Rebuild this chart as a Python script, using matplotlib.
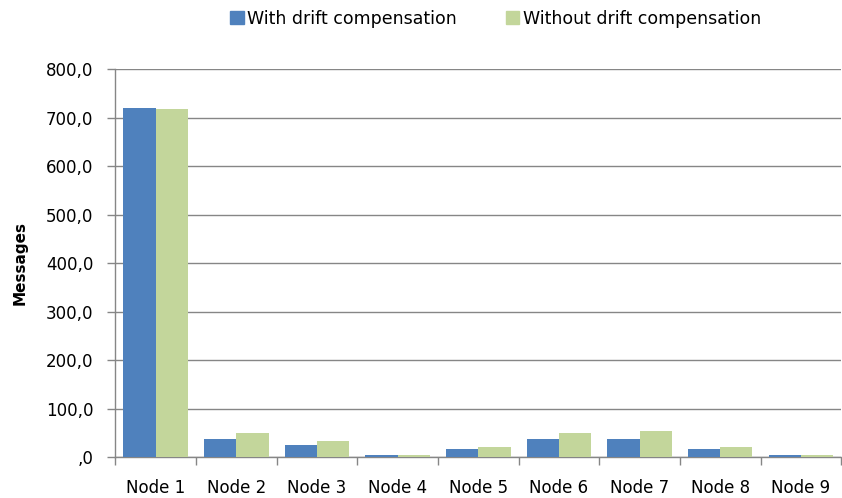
import numpy as np
import matplotlib.pyplot as plt
from matplotlib.patches import Patch

plt.rcParams["font.family"] = ["DejaVu Sans"]

blue = "#4F81BD"
green = "#C3D69B"
grid = "#868686"

nodes = ["Node 1", "Node 2", "Node 3", "Node 4", "Node 5",
         "Node 6", "Node 7", "Node 8", "Node 9"]
with_drift = [720, 38, 25, 4, 17, 38, 38, 17, 4]
without_drift = [719, 49, 33, 4, 21, 49, 54, 21, 4]
yticks = [0, 100, 200, 300, 400, 500, 600, 700, 800]
ytick_labels = [",0", "100,0", "200,0", "300,0", "400,0",
                "500,0", "600,0", "700,0", "800,0"]

fig = plt.figure(figsize=(8.42, 4.98), dpi=100)
ax = fig.add_axes([0.137, 0.082, 0.862, 0.779])

x = np.arange(len(nodes))
w = 0.4
ax.bar(x - w / 2, with_drift, w, color=blue, zorder=3)
ax.bar(x + w / 2, without_drift, w, color=green, zorder=3)

ax.set_xlim(-0.5, len(nodes) - 0.5)
ax.set_ylim(0, 800)
ax.set_yticks(yticks)
ax.set_yticklabels(ytick_labels)
ax.yaxis.grid(True, color=grid, lw=1, zorder=0)

# category tick marks sit between the categories
ax.set_xticks(np.arange(len(nodes) + 1) - 0.5)
ax.set_xticklabels([])
ax.set_xticks(x, minor=True)
ax.set_xticklabels(nodes, minor=True)
ax.tick_params(axis="x", which="minor", length=0, pad=16, labelsize=12)
ax.tick_params(axis="x", which="major", length=6, color=grid, width=1)
ax.tick_params(axis="y", length=6, color=grid, width=1, labelsize=12, pad=10)

for side in ["top", "right"]:
    ax.spines[side].set_visible(False)
for side in ["left", "bottom"]:
    ax.spines[side].set_color(grid)
    ax.spines[side].set_linewidth(1)

ax.set_ylabel("Messages", fontweight="bold", fontsize=11, labelpad=13)

handles = [Patch(color=blue, label="With drift compensation"),
           Patch(color=green, label="Without drift compensation")]
fig.legend(handles=handles, loc="upper center", ncol=2, frameon=False,
           bbox_to_anchor=(0.5885, 1.012), fontsize=12.5, handlelength=0.8,
           handleheight=0.8, handletextpad=0.2, columnspacing=2.8)

fig.savefig("out.png", dpi=100)
